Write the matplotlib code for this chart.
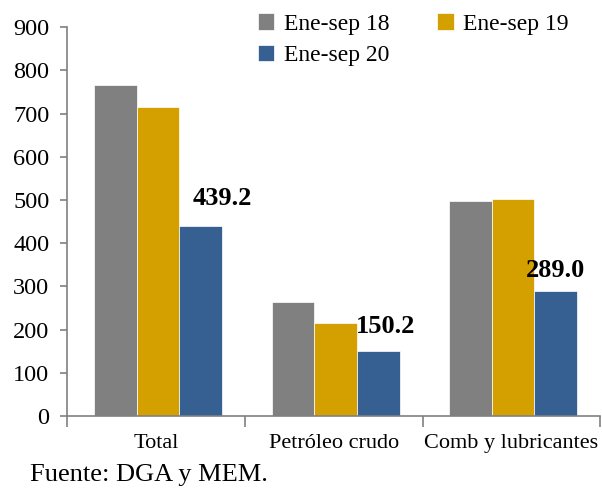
import numpy as np
import matplotlib
matplotlib.use("Agg")
import matplotlib.pyplot as plt

categories = ["Total", "Petróleo crudo", "Comb y lubricantes"]
series_names = ["Ene-sep 18", "Ene-sep 19", "Ene-sep 20"]
ene_sep_18 = [765, 265, 497]
ene_sep_19 = [715, 216, 502]
ene_sep_20 = [439.2, 150.2, 289.0]
colors = ["#808080", "#D4A000", "#366092"]

plt.rcParams['font.family'] = ['Liberation Serif', 'DejaVu Serif']

fig = plt.figure(figsize=(6.02, 4.93), dpi=100)
ax = fig.add_axes([0.112, 0.156, 0.885, 0.789])

x = np.arange(len(categories))
w = 0.24
bars = []
for i, vals in enumerate([ene_sep_18, ene_sep_19, ene_sep_20]):
    b = ax.bar(x + (i - 1) * w + 0.01, vals, width=w, color=colors[i],
               label=series_names[i], edgecolor="white", linewidth=0.5)
    bars.append(b)

# etiquetas de la serie 2020
offsets = [(0.12, 65), (0.04, 56), (0.0, 49)]
for i, v in enumerate(ene_sep_20):
    dx, dy = offsets[i]
    ax.text(x[i] + w + 0.01 + dx, v + dy, f"{v:.1f}", ha="center", va="center",
            fontsize=19, fontweight="bold")

ax.set_ylim(0, 900)
ax.set_yticks(range(0, 901, 100))
ax.set_xlim(-0.5, 2.5)
ax.set_xticks(x)
ax.set_xticklabels(categories, fontsize=16)
ax.set_xticks([-0.5, 0.5, 1.5, 2.5], minor=True)
ax.tick_params(axis="x", which="major", length=0, pad=13)
ax.tick_params(axis="x", which="minor", length=8, color="#808080", width=1.2)
ax.tick_params(axis="y", length=5, color="#808080", width=1.2, labelsize=17.5, pad=8)

for s in ["top", "right"]:
    ax.spines[s].set_visible(False)
for s in ["left", "bottom"]:
    ax.spines[s].set_color("#808080")
    ax.spines[s].set_linewidth(1.2)

# orden por filas: 18, 19 / 20
order = [0, 2, 1]
ax.legend([bars[k] for k in order], [series_names[k] for k in order],
          ncol=2, loc="upper left", bbox_to_anchor=(0.317, 1.09), frameon=False,
          fontsize=17, handlelength=0.7, handleheight=0.7, handletextpad=0.4,
          columnspacing=2.05, labelspacing=0.42)

fig.text(0.05, 0.025, "Fuente: DGA y MEM.", fontsize=19)

fig.savefig("out.png", dpi=100)
